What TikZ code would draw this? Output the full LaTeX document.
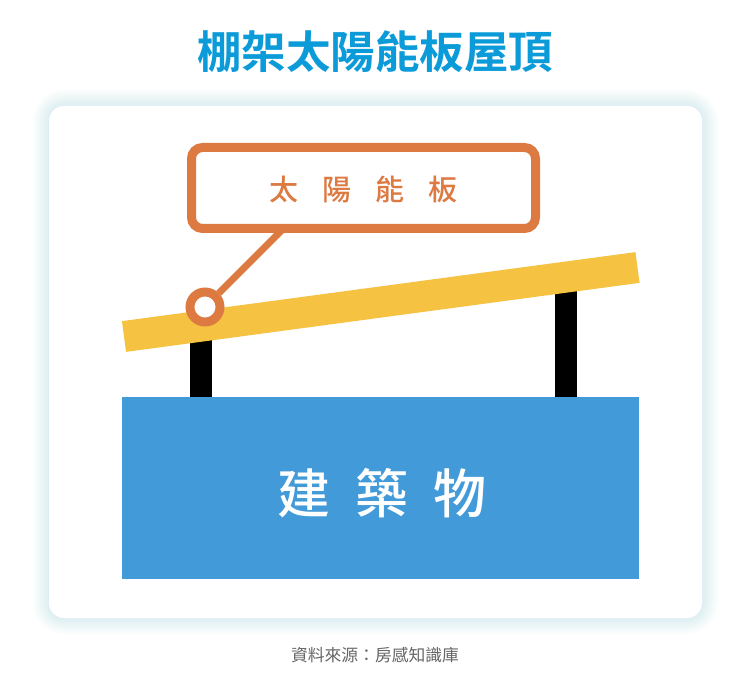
\documentclass[tikz,border=0pt]{standalone}
\usepackage{fontspec}
\newfontfamily\cjk{Noto Sans CJK TC}
\newfontfamily\cjkb{Noto Sans CJK TC Bold}
\newfontfamily\cjkm{Noto Sans CJK TC Medium}
\definecolor{titleblue}{HTML}{0C9BD9}
\definecolor{panelorange}{HTML}{DC7A42}
\definecolor{panelyellow}{HTML}{F5C242}
\definecolor{buildblue}{HTML}{439AD9}
\definecolor{glowblue}{HTML}{A8DAF4}
\definecolor{footgray}{HTML}{666666}
\tikzset{
  card/.style={fill=white, rounded corners=15pt},
  post/.style={fill=black, draw=none},
  building/.style={fill=buildblue, draw=none, inner sep=0pt, anchor=north west},
  panel/.style={draw=panelyellow, line width=31pt},
  conn/.style={draw=panelorange, line width=7pt},
  pin/.style={circle, draw=panelorange, fill=white, line width=9pt, minimum size=30pt, inner sep=0pt},
  labelbox/.style={draw=panelorange, fill=white, line width=9pt, rounded corners=11pt, minimum width=344pt, minimum height=81pt, inner sep=0pt},
}
\begin{document}
\begin{tikzpicture}[x=1pt,y=-1pt]
\useasboundingbox (0,0) rectangle (750,684);
\fill[white] (0,0) rectangle (750,684);
% glow
\foreach \i in {1,...,16} {
  \fill[glowblue, fill opacity=0.022, rounded corners={15+\i}] (49-\i,106-\i) rectangle (702+\i,618+\i);
}
\fill[card] (49,106) rectangle (702,618);
% title
\node[text=titleblue, font=\cjkb\fontsize{44.5}{50}\selectfont] (title) at (375,52) {棚架太陽能板屋頂};
% posts
\fill[post] (190,320) rectangle (212,398);
\fill[post] (555,270) rectangle (577,398);
% building
\node[building, minimum width=517pt, minimum height=182pt] (bld) at (122,397) {};
\node[text=white, font=\cjkm\fontsize{53}{58}\selectfont] (bldtxt) at (382,493) {建\hspace{25pt}築\hspace{25pt}物};
% panel
\coordinate (pl) at (124,336.5);
\coordinate (pr) at (637.5,267.5);
\draw[panel] (pl) -- (pr);
% pin and connector
\node[pin] (circ) at (205,307) {};
\coordinate (lk) at (283,229);
\draw[conn] (circ.45) -- (lk);
\node[labelbox] (lbl) at (363.5,188) {};
\node[text=panelorange, font=\cjkm\fontsize{29}{33}\selectfont] (lbltxt) at (363.5,190) {太\hspace{24pt}陽\hspace{24pt}能\hspace{24pt}板};
% footer
\node[text=footgray, font=\cjk\fontsize{16.8}{20}\selectfont] (foot) at (375,655) {資料來源：房感知識庫};
\end{tikzpicture}
\end{document}
